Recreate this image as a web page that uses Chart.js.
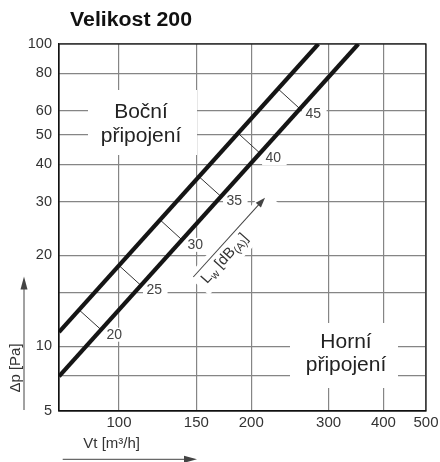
<!DOCTYPE html>
<html>
<head>
<meta charset="utf-8">
<script src="https://cdn.jsdelivr.net/npm/chart.js@4.4.9/dist/chart.umd.min.js"></script>
<style>
  body { margin: 0; background: #fff; }
  #chart { display: block; }
</style>
</head>
<body>
<canvas id="chart" width="440" height="462"></canvas>
<script>
const FONT = '"Liberation Sans", Arial, sans-serif';

// osy (log-log)
const xTicks = [100, 150, 200, 300, 400, 500];
const yTicks = [6.11, 8, 10, 15, 20, 30, 40, 50, 60, 80, 100];
const yTickLabels = ['5', '', '10', '', '20', '30', '40', '50', '60', '80', '100'];

// charakteristiky - přímky v log-log, stačí dva body
const bocniX = [73, 284.3];
const bocniY = [11.15, 100];
const horniX = [73, 350.6];
const horniY = [7.96, 100];

// příčky hladiny Lw mezi přímkami
const lwLevels = [20, 25, 30, 35, 40, 45];
const lwFromX = [81.1, 100, 124.0, 152.1, 186.6, 230.1];
const lwFromY = [13.2, 18.5, 26.2, 36.4, 50.7, 71.1];
const lwToX = [91.0, 112.2, 139.1, 170.7, 209.5, 258.3];
const lwToY = [11.35, 15.9, 22.5, 31.3, 43.5, 61.0];

// šipka Lw [dB(A)]
const lwArrowX = [147.6, 215];
const lwArrowY = [16.95, 31.0];

const toPoints = (xs, ys) => xs.map((v, i) => ({ x: v, y: ys[i] }));

function knockout(ctx, x, y, w, h) {
    ctx.fillStyle = '#fff';
    ctx.fillRect(x, y, w, h);
}

function arrow(ctx, x1, y1, x2, y2, head, half) {
    const ang = Math.atan2(y2 - y1, x2 - x1);
    const len = Math.hypot(x2 - x1, y2 - y1);
    ctx.save();
    ctx.translate(x1, y1);
    ctx.rotate(ang);
    ctx.beginPath();
    ctx.moveTo(0, 0);
    ctx.lineTo(len - head + 1, 0);
    ctx.stroke();
    ctx.beginPath();
    ctx.moveTo(len, 0);
    ctx.lineTo(len - head, -half);
    ctx.lineTo(len - head, half);
    ctx.closePath();
    ctx.fill();
    ctx.restore();
}

const annotations = {
    id: 'annotations',
    beforeDatasetsDraw(chart) {
        const { ctx, scales: { x, y } } = chart;
        ctx.save();

        // popisky oblastí
        ctx.font = `21px ${FONT}`;
        ctx.textAlign = 'center';
        ctx.textBaseline = 'alphabetic';
        knockout(ctx, 88, 90, 109, 65);
        knockout(ctx, 290, 323, 108, 65);
        ctx.fillStyle = '#222';
        ctx.fillText('Boční', 141, 118);
        ctx.fillText('připojení', 141, 141.5);
        ctx.fillText('Horní', 346, 347.5);
        ctx.fillText('připojení', 346, 371);

        // čísla Lw u spodní přímky
        ctx.font = `14px ${FONT}`;
        ctx.textAlign = 'left';
        ctx.textBaseline = 'middle';
        lwLevels.forEach((lv, i) => {
            const px = x.getPixelForValue(lwToX[i]);
            const py = y.getPixelForValue(lwToY[i]);
            const t = String(lv);
            const w = ctx.measureText(t).width;
            knockout(ctx, px + 2, py - 2, w + 9, 14);
            ctx.fillStyle = '#444';
            ctx.fillText(t, px + 5.5, py + 5);
        });

        // šipka a text Lw [dB(A)]
        const ax = x.getPixelForValue(lwArrowX[0]), ay = y.getPixelForValue(lwArrowY[0]);
        const bx = x.getPixelForValue(lwArrowX[1]), by = y.getPixelForValue(lwArrowY[1]);
        const len = Math.hypot(bx - ax, by - ay);
        ctx.save();
        ctx.translate(ax, ay);
        ctx.rotate(Math.atan2(by - ay, bx - ax));
        knockout(ctx, -3, -5, len + 8, 29);
        ctx.restore();
        ctx.strokeStyle = '#444';
        ctx.fillStyle = '#444';
        ctx.lineWidth = 1;
        arrow(ctx, ax, ay, bx, by, 10, 3.5);

        ctx.save();
        ctx.translate(ax, ay);
        ctx.rotate(Math.atan2(by - ay, bx - ax));
        ctx.textBaseline = 'alphabetic';
        ctx.fillStyle = '#333';
        let tx = 4;
        [['L', 15, 0], ['w', 11, 3], [' [dB', 15, 0], ['(A)', 11, 3], [']', 15, 0]].forEach(([t, size, dy]) => {
            ctx.font = `${size}px ${FONT}`;
            ctx.fillText(t, tx, 15 + dy);
            tx += ctx.measureText(t).width;
        });
        ctx.restore();

        ctx.restore();
    },
    afterDraw(chart) {
        const { ctx, chartArea: a } = chart;
        ctx.save();
        ctx.strokeStyle = '#111';
        ctx.lineWidth = 1.2;
        ctx.strokeRect(a.left, a.top, a.right - a.left, a.bottom - a.top);

        // nadpis
        ctx.font = `bold 20px ${FONT}`;
        ctx.fillStyle = '#111';
        ctx.textAlign = 'left';
        ctx.textBaseline = 'alphabetic';
        const title = 'Velikost 200';
        const sx = 122 / ctx.measureText(title).width;
        ctx.save();
        ctx.translate(70, 26);
        ctx.scale(sx, 1);
        ctx.fillText(title, 0, 0);
        ctx.restore();

        // osy - popisky a šipky
        ctx.font = `15px ${FONT}`;
        ctx.fillStyle = '#333';
        ctx.fillText('Vt [m³/h]', 83.3, 447.5);
        ctx.save();
        ctx.translate(19.5, 368);
        ctx.rotate(-Math.PI / 2);
        ctx.textAlign = 'center';
        ctx.fillText('Δp [Pa]', 0, 0);
        ctx.restore();

        ctx.strokeStyle = '#444';
        ctx.fillStyle = '#444';
        ctx.lineWidth = 1;
        arrow(ctx, 62.7, 459.3, 197, 459.3, 13, 3.5);
        arrow(ctx, 24, 410, 24, 276.5, 13, 3.5);
        ctx.restore();
    }
};

const thin = { borderColor: '#333', borderWidth: 1, pointRadius: 0, showLine: true };

new Chart(document.getElementById('chart'), {
    type: 'scatter',
    data: {
        datasets: [
            { label: 'Boční připojení', data: toPoints(bocniX, bocniY), borderColor: '#151515', borderWidth: 4.2, pointRadius: 0, showLine: true },
            { label: 'Horní připojení', data: toPoints(horniX, horniY), borderColor: '#151515', borderWidth: 4.2, pointRadius: 0, showLine: true },
            ...lwLevels.map((lv, i) => ({
                label: 'Lw ' + lv,
                data: [{ x: lwFromX[i], y: lwFromY[i] }, { x: lwToX[i], y: lwToY[i] }],
                ...thin
            }))
        ]
    },
    options: {
        responsive: false,
        animation: false,
        layout: { padding: { top: 44, right: 14, bottom: 0, left: 0 } },
        plugins: {
            legend: { display: false },
            tooltip: { enabled: false },
            title: { display: false }
        },
        scales: {
            x: {
                type: 'logarithmic',
                min: 73,
                max: 500,
                afterBuildTicks: s => { s.ticks = xTicks.map(v => ({ value: v })); },
                afterFit: s => { s.height = 51; s.paddingLeft = 0; s.paddingRight = 0; },
                ticks: {
                    autoSkip: false,
                    maxRotation: 0,
                    padding: 3,
                    color: '#333',
                    font: { family: FONT, size: 15 },
                    callback: v => String(v)
                },
                grid: { color: '#858585', lineWidth: 1.2, drawTicks: false },
                border: { color: '#111', width: 1.2 }
            },
            y: {
                type: 'logarithmic',
                min: 6.11,
                max: 100,
                afterBuildTicks: s => { s.ticks = yTicks.map(v => ({ value: v })); },
                afterFit: s => { s.width = 59; s.paddingTop = 0; s.paddingBottom = 0; },
                ticks: {
                    autoSkip: false,
                    padding: 7,
                    color: '#333',
                    font: { family: FONT, size: 14.5 },
                    callback: (v, i) => yTickLabels[i]
                },
                grid: { color: '#858585', lineWidth: 1.2, drawTicks: false },
                border: { color: '#111', width: 1.2 }
            }
        }
    },
    plugins: [annotations]
});
</script>
</body>
</html>
